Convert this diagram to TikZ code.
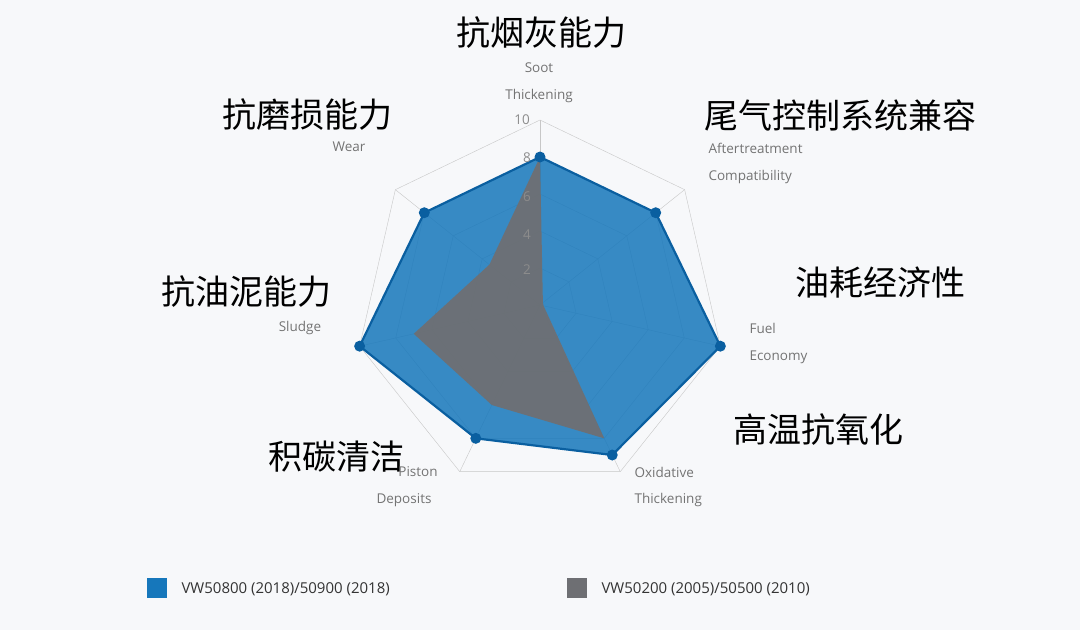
\documentclass[tikz,border=0pt]{standalone}
\usetikzlibrary{calc}
\usepackage{fontspec}
\setmainfont{Open Sans}
\newfontfamily\cjk{Noto Sans CJK SC}
\begin{document}
\begin{tikzpicture}[x=1pt,y=-1pt,
  cn/.style={font=\cjk\fontsize{34}{36}\selectfont,text=black},
  en/.style={font=\fontsize{13.5}{15}\selectfont,text=black!55},
  tk/.style={font=\fontsize{13.5}{15}\selectfont,text=black!45},
  lg/.style={font=\fontsize{15}{17}\selectfont,text=black!80}]
\definecolor{bl}{RGB}{22,119,187}
\definecolor{bld}{RGB}{10,95,160}
\definecolor{gr}{RGB}{110,111,115}
\fill[fill={rgb,255:red,247;green,248;blue,250}] (0,0) rectangle (1080,630);
\useasboundingbox (0,0) rectangle (1080,630);
\coordinate (O) at (540,305);
% grid
\foreach \r in {37,74,111,148,185}{
  \draw[black!22] ($(O)+(-90:\r)$) \foreach \k in {1,...,6}{ -- ($(O)+(-90+\k*51.4286:\r)$)} -- cycle;}
\foreach \k in {0,...,6}{\draw[black!22] (O) -- ($(O)+(-90+\k*51.4286:185)$);}
% blue series
\foreach \v [count=\i from 0] in {8,8,10,9,8,10,8}{
  \coordinate (b\i) at ($(O)+(-90+\i*51.4286:{\v*18.5})$);}
\fill[bl,fill opacity=0.85] (b0)--(b1)--(b2)--(b3)--(b4)--(b5)--(b6)--cycle;
\draw[bld,line width=2.2pt] (b0)--(b1)--(b2)--(b3)--(b4)--(b5)--(b6)--cycle;
% grey series
\foreach \v [count=\i from 0] in {8,0.2,0.2,8,6,7,3.5}{
  \coordinate (g\i) at ($(O)+(-90+\i*51.4286:{\v*18.5})$);}
\fill[gr,fill opacity=0.95] (g0)--(g1)--(g2)--(g3)--(g4)--(g5)--(g6)--cycle;
\foreach \i in {0,...,6}{\fill[bld] (b\i) circle (5.5);}
% ticks
\node[tk] (t10) at (522,120) {10};
\node[tk] (t8) at (527,158) {8};
\node[tk] (t6) at (527,197) {6};
\node[tk] (t4) at (527,235) {4};
\node[tk] (t2) at (527,270) {2};
% labels
\node[cn] (c0) at (541,33) {抗烟灰能力};
\node[en] (e0a) at (539,68) {Soot};
\node[en] (e0b) at (539,96) {Thickening};
\node[cn] (c1) at (840,115) {尾气控制系统兼容};
\node[en,anchor=west] (e1a) at (705,148) {Aftertreatment};
\node[en,anchor=west] (e1b) at (705,177) {Compatibility};
\node[cn] (c2) at (880,283) {油耗经济性};
\node[en,anchor=west] (e2a) at (746,328) {Fuel};
\node[en,anchor=west] (e2b) at (746,357) {Economy};
\node[cn] (c3) at (818,430) {高温抗氧化};
\node[en,anchor=west] (e3a) at (631,472) {Oxidative};
\node[en,anchor=west] (e3b) at (631,500) {Thickening};
\node[cn] (c4) at (336,457) {积碳清洁};
\node[en] (e4a) at (418,472) {Piston};
\node[en] (e4b) at (404,500) {Deposits};
\node[cn] (c5) at (246,292) {抗油泥能力};
\node[en] (e5) at (300,328) {Sludge};
\node[cn] (c6) at (307,115) {抗磨损能力};
\node[en] (e6) at (349,147) {Wear};
% legend
\fill[bl] (147,578) rectangle (167,598);
\node[lg,anchor=west] (l1) at (178,589) {VW50800 (2018)/50900 (2018)};
\fill[gr] (567,578) rectangle (587,598);
\node[lg,anchor=west] (l2) at (598,589) {VW50200 (2005)/50500 (2010)};
\end{tikzpicture}
\end{document}
